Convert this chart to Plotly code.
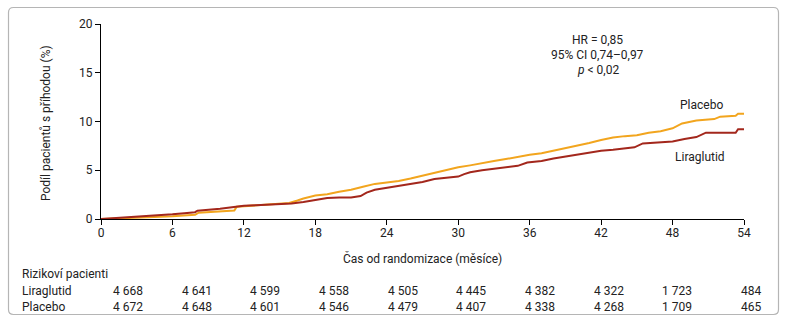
import plotly.graph_objects as go

# ---------------- data ----------------
placebo_t = [0, 1, 2, 3, 4, 5, 6, 7, 7.9, 8.2, 9, 10, 11.2, 11.4, 12, 13, 14, 15, 15.8, 16.5, 17, 18,
             19, 20, 21, 22, 23, 24, 25, 26, 27, 28, 29, 30, 31, 32, 33, 34, 35, 36, 37, 38, 39, 40,
             41, 42, 43, 44, 45, 46, 47, 48, 48.8, 50, 51.5, 52, 53.3, 53.5, 54]
placebo_y = [0, 0.03, 0.08, 0.12, 0.17, 0.22, 0.27, 0.35, 0.43, 0.65, 0.72, 0.8, 0.88, 1.25, 1.3, 1.4,
             1.5, 1.55, 1.65, 1.9, 2.1, 2.4, 2.55, 2.8, 3.0, 3.3, 3.6, 3.75, 3.9, 4.15, 4.45, 4.75, 5.0,
             5.3, 5.5, 5.75, 5.95, 6.15, 6.4, 6.6, 6.75, 7.0, 7.25, 7.5, 7.8, 8.1, 8.35, 8.5, 8.6, 8.85,
             9.0, 9.3, 9.8, 10.1, 10.25, 10.5, 10.6, 10.8, 10.8]

lira_t = [0, 1, 2, 3, 4, 5, 6, 7, 7.9, 8.1, 9, 10, 11, 12, 13, 14, 15, 16, 17, 18, 19, 20, 21, 21.8,
          22.3, 23, 24, 25, 26, 27, 28, 29, 30, 30.5, 31, 32, 33, 34, 35, 35.8, 37, 38, 39, 40, 41, 42,
          43, 44, 44.8, 45.5, 46.5, 48, 49, 50, 50.8, 52, 53.3, 53.5, 54]
lira_y = [0, 0.07, 0.14, 0.22, 0.3, 0.38, 0.48, 0.6, 0.7, 0.85, 0.92, 1.05, 1.2, 1.35, 1.42, 1.48,
          1.55, 1.6, 1.75, 1.95, 2.15, 2.2, 2.2, 2.35, 2.7, 3.0, 3.2, 3.35, 3.55, 3.8, 4.1, 4.2, 4.35,
          4.6, 4.8, 5.0, 5.15, 5.3, 5.45, 5.8, 5.95, 6.2, 6.4, 6.65, 6.85, 7.0, 7.1, 7.2, 7.35, 7.75,
          7.85, 7.95, 8.2, 8.4, 8.85, 8.85, 8.85, 9.2, 9.2]

x_ticks = [0, 6, 12, 18, 24, 30, 36, 42, 48, 54]
y_ticks = [0, 5, 10, 15, 20]

risk_lira = ["4 668", "4 641", "4 599", "4 558", "4 505", "4 445", "4 382", "4 322", "1 723", "484"]
risk_plac = ["4 672", "4 648", "4 601", "4 546", "4 479", "4 407", "4 338", "4 268", "1 709", "465"]

# ---------------- style ----------------
W, H = 785, 323
L, R, T, B = 101, 41, 24, 104
PW, PH = W - L - R, H - T - B
FONT = "Roboto"
TXT = "#222222"
ORANGE = "#F2A51E"
RED = "#A3271C"


def px(xp):
    return (xp - L) / PW


def py(yp):
    return (H - B - yp) / PH


fig = go.Figure()
fig.add_trace(go.Scatter(x=placebo_t, y=placebo_y, mode="lines",
                         line=dict(color=ORANGE, width=2), name="Placebo", hoverinfo="skip"))
fig.add_trace(go.Scatter(x=lira_t, y=lira_y, mode="lines",
                         line=dict(color=RED, width=2), name="Liraglutid", hoverinfo="skip"))

ann = []


def add(x, y, text, xref="paper", yref="paper", xanchor="center", **kw):
    ann.append(dict(x=x, y=y, xref=xref, yref=yref, text=text, showarrow=False,
                    xanchor=xanchor, yanchor="middle", font=dict(size=12, color=TXT), **kw))


# stats
add(41.7, 18.35, "HR = 0,85", "x", "y")
add(41.7, 16.8, "95% CI 0,74–0,97", "x", "y")
add(41.7, 15.25, "<i>p</i> < 0,02", "x", "y")
# curve labels
add(50.4, 11.7, "Placebo", "x", "y")
add(50.3, 6.35, "Liraglutid", "x", "y")
# axis titles
add(px(46), py(123), "Podíl pacientů s příhodou (%)", textangle=-90)
add(px(422), py(258), "Čas od randomizace (měsíce)")
# risk table
add(px(20), py(273.5), "Rizikoví pacienti", xanchor="left")
add(px(20), py(290.5), "Liraglutid", xanchor="left")
add(px(20), py(306.5), "Placebo", xanchor="left")
n = len(risk_lira)
for i in range(n):
    xr = 145 + i * (763 - 145) / (n - 1)
    add(px(xr), py(290.5), risk_lira[i], xanchor="right")
    add(px(xr), py(306.5), risk_plac[i], xanchor="right")

# rounded frame
x0, x1, y0, y1 = px(8.5), px(778.5), py(314.5), py(7.5)
rx, ry = 5 / PW, 5 / PH
path = (f"M {x0+rx},{y1} L {x1-rx},{y1} Q {x1},{y1} {x1},{y1-ry} "
        f"L {x1},{y0+ry} Q {x1},{y0} {x1-rx},{y0} L {x0+rx},{y0} Q {x0},{y0} {x0},{y0+ry} "
        f"L {x0},{y1-ry} Q {x0},{y1} {x0+rx},{y1} Z")
shapes = [dict(type="path", path=path, xref="paper", yref="paper",
               line=dict(color="#b5b5b5", width=1.2), layer="below")]

fig.update_layout(
    width=W, height=H, margin=dict(l=L, r=R, t=T, b=B),
    paper_bgcolor="white", plot_bgcolor="white", showlegend=False,
    font=dict(family=FONT, size=12, color=TXT),
    annotations=ann, shapes=shapes,
    xaxis=dict(range=[0, 54], tickmode="array", tickvals=x_ticks, ticks="outside", ticklen=5,
               tickcolor="black", showline=True, linecolor="black", linewidth=1.2,
               ticklabelstandoff=-3,
               showgrid=False, zeroline=False, tickfont=dict(size=12, color=TXT), fixedrange=True),
    yaxis=dict(range=[0, 20], tickmode="array", tickvals=y_ticks, ticks="outside", ticklen=5,
               tickcolor="black", showline=True, linecolor="black", linewidth=1.2,
               showgrid=False, zeroline=False, tickfont=dict(size=12, color=TXT), fixedrange=True),
)
fig.write_html("out.html")
